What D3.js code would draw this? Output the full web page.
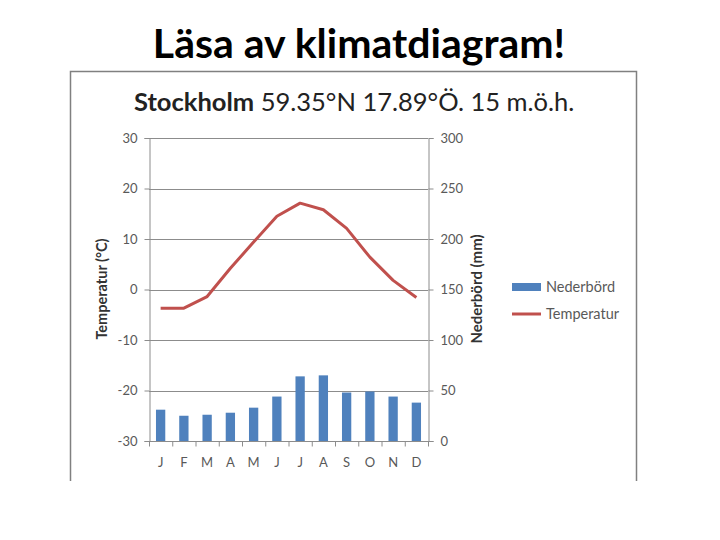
<!DOCTYPE html>
<html><head><meta charset="utf-8">
<script src="https://cdn.jsdelivr.net/npm/d3@7"></script>
<style>body{margin:0;background:#fff}svg{display:block}</style>
</head><body>
<script>
const months = ["J","F","M","A","M","J","J","A","S","O","N","D"];
const precipitation = [31, 25, 26, 28, 33, 44, 64, 65, 48, 49, 44, 38];
const temperature = [-3.7, -3.7, -1.4, 4.2, 9.4, 14.5, 17.1, 15.8, 12.1, 6.4, 1.8, -1.6];
const tempTicks = [30, 20, 10, 0, -10, -20, -30];
const precTicks = [300, 250, 200, 150, 100, 50, 0];
const legendLabels = ["Nederbörd", "Temperatur"];

const W = 720, H = 540;
const svg = d3.select("body").append("svg").attr("width", W).attr("height", H);
const font = "Lato, 'Open Sans', sans-serif";

// Slide title
svg.append("text").attr("x", 359).attr("y", 58).attr("text-anchor", "middle")
  .attr("font-family", font).attr("font-weight", 700).attr("font-size", 41)
  .attr("fill", "#000").text("Läsa av klimatdiagram!");

// Chart frame (bottom is cut off)
svg.append("path").attr("d", "M70.5,481 V71.5 H636.5 V481")
  .attr("fill", "none").attr("stroke", "#808080").attr("stroke-width", 1.5);

// Chart title
const t = svg.append("text").attr("x", 134).attr("y", 111)
  .attr("font-family", font).attr("font-size", 25.5).attr("fill", "#222");
t.append("tspan").attr("font-weight", 700).text("Stockholm");
t.append("tspan").text(" 59.35°N 17.89°Ö. 15 m.ö.h.");

const L = 149, R = 428, T = 138, B = 441;
const x = d3.scaleBand().domain(d3.range(12)).range([L, R]).paddingInner(0.6).paddingOuter(0.3);
const xc = d3.scaleBand().domain(d3.range(12)).range([L, R]);
const yT = d3.scaleLinear().domain([-30, 30]).range([B, T]);
const yP = d3.scaleLinear().domain([0, 300]).range([B, T]);

const gridCol = "#8c8c8c", textCol = "#595959";

// gridlines
svg.append("g").selectAll("line").data(tempTicks.filter(d => d !== -30)).join("line")
  .attr("x1", L).attr("x2", R).attr("y1", d => Math.round(yT(d)) + 0.5).attr("y2", d => Math.round(yT(d)) + 0.5)
  .attr("stroke", gridCol).attr("stroke-width", 1);

// left axis
const axL = svg.append("g").attr("transform", `translate(${L + 0.5},0)`)
  .call(d3.axisLeft(yT).tickValues(tempTicks).tickFormat(d => String(d)).tickSize(5).tickPadding(7));
// right axis
const axR = svg.append("g").attr("transform", `translate(${R + 0.5},0)`)
  .call(d3.axisRight(yP).tickValues(precTicks).tickSize(5).tickPadding(7));
[axL, axR].forEach(a => {
  a.select(".domain").attr("stroke", gridCol);
  a.selectAll(".tick line").attr("stroke", gridCol);
  a.selectAll("text").attr("font-family", font).attr("font-size", 13).attr("fill", textCol);
});

// bars
svg.append("g").selectAll("rect").data(precipitation).join("rect")
  .attr("x", (d, i) => x(i)).attr("width", x.bandwidth())
  .attr("y", d => yP(d)).attr("height", d => yP(0) - yP(d))
  .attr("fill", "#4f81bd");

// bottom axis
const axB = svg.append("g").attr("transform", `translate(0,${B + 0.5})`);
axB.append("line").attr("x1", L).attr("x2", R + 5).attr("stroke", gridCol);
axB.selectAll("line.t").data(d3.range(13)).join("line").attr("class", "t")
  .attr("x1", i => L + i * xc.bandwidth() + 0.5).attr("x2", i => L + i * xc.bandwidth() + 0.5)
  .attr("y1", 0).attr("y2", 5).attr("stroke", gridCol);
axB.selectAll("text").data(months).join("text")
  .attr("x", (d, i) => xc(i) + xc.bandwidth() / 2).attr("y", 25)
  .attr("text-anchor", "middle").attr("font-family", font).attr("font-size", 13)
  .attr("fill", textCol).text(d => d);

// temperature line
svg.append("path").datum(temperature)
  .attr("d", d3.line().x((d, i) => xc(i) + xc.bandwidth() / 2).y(d => yT(d)))
  .attr("fill", "none").attr("stroke", "#c0504d").attr("stroke-width", 3).attr("stroke-linejoin", "round");

// axis titles
svg.append("text").attr("transform", `translate(107,289) rotate(-90)`).attr("text-anchor", "middle")
  .attr("font-family", font).attr("font-weight", 700).attr("font-size", 14.5).attr("fill", "#333")
  .text("Temperatur (°C)");
svg.append("text").attr("transform", `translate(482,289) rotate(-90)`).attr("text-anchor", "middle")
  .attr("font-family", font).attr("font-weight", 700).attr("font-size", 15).attr("fill", "#333")
  .text("Nederbörd (mm)");

// legend
const lg = svg.append("g");
lg.append("rect").attr("x", 512).attr("y", 283).attr("width", 29).attr("height", 8).attr("fill", "#4f81bd");
lg.append("line").attr("x1", 512).attr("x2", 541).attr("y1", 314).attr("y2", 314)
  .attr("stroke", "#c0504d").attr("stroke-width", 3);
lg.selectAll("text").data(legendLabels).join("text")
  .attr("x", 546).attr("y", (d, i) => 287 + i * 27).attr("dy", "0.35em")
  .attr("font-family", font).attr("font-size", 14.5).attr("fill", textCol).text(d => d);
</script>
</body></html>
